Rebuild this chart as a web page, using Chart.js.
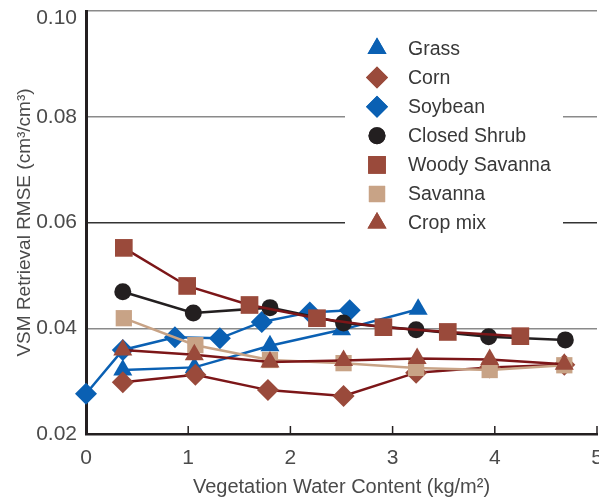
<!DOCTYPE html>
<html>
<head>
<meta charset="utf-8">
<script src="https://cdn.jsdelivr.net/npm/chart.js@4.4.0/dist/chart.umd.min.js"></script>
<style>
  html, body { margin: 0; padding: 0; background: #fff; }
  #wrap { width: 599px; height: 500px; position: relative; }
</style>
</head>
<body>
<div id="wrap"><canvas id="chart"></canvas></div>
<script>
// Series names (legend order)
const categories = ["Grass", "Corn", "Soybean", "Closed Shrub", "Woody Savanna", "Savanna", "Crop mix"];

// Vegetation water content (kg/m2) and RMSE values
const grassX = [0.36, 1.06, 1.80, 2.50, 3.25];
const grassY = [0.0321, 0.0326, 0.0367, 0.0397, 0.0436];

const cornX = [0.36, 1.07, 1.78, 2.52, 3.23, 3.95, 4.68];
const cornY = [0.0298, 0.0312, 0.0283, 0.0272, 0.0316, 0.0326, 0.0331];

const soyX = [0, 0.36, 0.87, 1.31, 1.72, 2.19, 2.58];
const soyY = [0.0276, 0.0359, 0.0383, 0.0381, 0.0412, 0.0430, 0.0434];

const shrubX = [0.36, 1.05, 1.80, 2.52, 3.23, 3.94, 4.69];
const shrubY = [0.0469, 0.0429, 0.0439, 0.0410, 0.0397, 0.0384, 0.0378];

const woodyX = [0.37, 0.99, 1.60, 2.26, 2.91, 3.54, 4.25];
const woodyY = [0.0552, 0.0480, 0.0444, 0.0419, 0.0402, 0.0393, 0.0385];

const savannaX = [0.37, 1.07, 1.80, 2.52, 3.23, 3.95, 4.68];
const savannaY = [0.0419, 0.0368, 0.0340, 0.0334, 0.0325, 0.0321, 0.0330];

const cropX = [0.36, 1.06, 1.80, 2.52, 3.24, 3.95, 4.68];
const cropY = [0.0359, 0.0350, 0.0336, 0.0339, 0.0343, 0.0341, 0.0332];

const yTicks = [0.02, 0.04, 0.06, 0.08, 0.10];
const xTicks = [0, 1, 2, 3, 4, 5];

const BLUE = "#0a60b3";
const BROWN = "#9a4a3b";
const DARKRED = "#7c1618";
const TAN = "#c8a386";
const BLACK = "#231f20";
const TEXT = "#4a4a4a";
const FONT = "'Liberation Sans', Arial, sans-serif";

function pts(xs, ys) {
    return xs.map((x, i) => ({ x: x, y: ys[i] }));
}

function series(i, xs, ys, line, marker, style, radius, order) {
    return {
        label: categories[i],
        data: pts(xs, ys),
        borderColor: line,
        backgroundColor: marker,
        pointBackgroundColor: marker,
        pointBorderColor: marker,
        pointBorderWidth: 0,
        pointStyle: style,
        pointRadius: radius,
        pointHoverRadius: radius,
        borderWidth: 2.5,
        showLine: true,
        tension: 0,
        clip: false,
        order: order
    };
}

const datasets = [
    series(0, grassX, grassY, BLUE, BLUE, "triangle", 11, 6),
    series(1, cornX, cornY, DARKRED, BROWN, "rectRot", 11, 5),
    series(2, soyX, soyY, BLUE, BLUE, "rectRot", 11, 7),
    series(3, shrubX, shrubY, BLACK, BLACK, "circle", 8.5, 3),
    series(4, woodyX, woodyY, DARKRED, BROWN, "rect", 12.5, 2),
    series(5, savannaX, savannaY, TAN, TAN, "rect", 11.5, 1),
    series(6, cropX, cropY, DARKRED, BROWN, "triangle", 11, 0)
];

// Legend drawn inside the plot on a white panel
const insideLegend = {
    id: "insideLegend",
    beforeDatasetsDraw(chart) {
        const ctx = chart.ctx;
        ctx.save();
        ctx.fillStyle = "#fff";
        ctx.fillRect(345, 22, 218, 220);
        ctx.restore();
    },
    afterDraw(chart) {
        const ctx = chart.ctx;
        ctx.save();
        ctx.font = "19.5px " + FONT;
        ctx.textBaseline = "middle";
        chart.data.datasets.forEach((ds, i) => {
            const y = 48.5 + i * 29.1;
            ctx.fillStyle = ds.pointBackgroundColor;
            Chart.helpers.drawPoint(ctx, {
                pointStyle: ds.pointStyle,
                radius: ds.pointRadius,
                borderWidth: 0,
                rotation: 0
            }, 377, y);
            ctx.fill();
            ctx.fillStyle = "#383838";
            ctx.fillText(ds.label, 408, y + 1);
        });
        ctx.restore();
    }
};

// Small inward ticks on the bottom axis
const innerTicks = {
    id: "innerTicks",
    afterDraw(chart) {
        const ctx = chart.ctx;
        const xs = chart.scales.x;
        const bottom = chart.chartArea.bottom;
        ctx.save();
        ctx.strokeStyle = BLACK;
        ctx.lineWidth = 1.5;
        xTicks.forEach(v => {
            const px = xs.getPixelForValue(v);
            ctx.beginPath();
            ctx.moveTo(px, bottom);
            ctx.lineTo(px, bottom - 8);
            ctx.stroke();
        });
        ctx.restore();
    }
};

function isTop(ctx) {
    return ctx.tick && Math.abs(ctx.tick.value - 0.10) < 1e-6;
}

new Chart(document.getElementById("chart"), {
    type: "scatter",
    data: { datasets: datasets },
    options: {
        responsive: true,
        maintainAspectRatio: false,
        animation: false,
        layout: { autoPadding: false, padding: { top: 11, right: 2, left: 0, bottom: 0 } },
        plugins: {
            legend: { display: false },
            tooltip: { enabled: false }
        },
        scales: {
            x: {
                type: "linear",
                min: 0,
                max: 5,
                afterBuildTicks(scale) {
                    scale.ticks = xTicks.map(v => ({ value: v }));
                },
                afterFit(scale) {
                    scale.height = 66;
                    scale.paddingLeft = 0;
                    scale.paddingRight = 0;
                },
                grid: { display: false, drawTicks: false },
                border: { display: true, color: BLACK, width: 2.5 },
                ticks: {
                    padding: 12,
                    color: TEXT,
                    font: { family: FONT, size: 21 },
                    maxRotation: 0
                },
                title: {
                    display: true,
                    text: "Vegetation Water Content (kg/m²)",
                    color: TEXT,
                    font: { family: FONT, size: 20 },
                    padding: { top: 0, bottom: 1 }
                }
            },
            y: {
                min: 0.02,
                max: 0.10,
                afterBuildTicks(scale) {
                    scale.ticks = yTicks.map(v => ({ value: v }));
                },
                afterFit(scale) {
                    scale.width = 86;
                    scale.paddingTop = 0;
                    scale.paddingBottom = 0;
                },
                grid: {
                    drawTicks: false,
                    lineWidth: 1.5,
                    color: ctx => {
                        const v = ctx.tick ? ctx.tick.value : null;
                        if (v !== null && Math.abs(v - 0.02) < 1e-6) return "rgba(0,0,0,0)";
                        if (v !== null && Math.abs(v - 0.06) < 1e-6) return "#333";
                        return "#8a8a8a";
                    }
                },
                border: { display: true, color: BLACK, width: 3 },
                ticks: {
                    padding: 9,
                    color: TEXT,
                    font: ctx => ({ family: FONT, size: 21, lineHeight: isTop(ctx) ? "15px" : 1.2 }),
                    callback: v => Math.abs(v - 0.10) < 1e-6 ? ["", v.toFixed(2)] : v.toFixed(2)
                },
                title: {
                    display: true,
                    text: "VSM Retrieval RMSE (cm³/cm³)",
                    color: TEXT,
                    font: { family: FONT, size: 19 },
                    padding: { top: 13, bottom: 0 }
                }
            }
        }
    },
    plugins: [insideLegend, innerTicks]
});
</script>
</body>
</html>
